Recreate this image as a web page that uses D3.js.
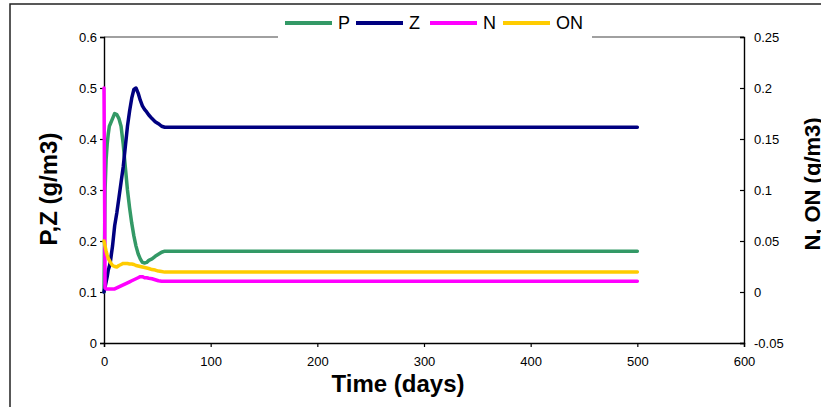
<!DOCTYPE html>
<html>
<head>
<meta charset="utf-8">
<script src="https://cdn.jsdelivr.net/npm/d3@7"></script>
<style>
  html, body { margin: 0; padding: 0; background: #fff; }
  svg { display: block; font-family: "Liberation Sans", Arial, sans-serif; }
</style>
</head>
<body>
<svg id="chart" width="821" height="407"></svg>
<script>
// ---- data ----
const time = [0, 1, 2, 3, 4, 5, 6, 8, 10, 12, 14, 16, 18, 20, 22, 24, 26, 28, 30, 32, 34, 36, 38, 40, 42, 45, 48, 51, 54, 57, 60, 70, 100, 200, 300, 400, 500];
const P  = [0.10, 0.30, 0.36, 0.39, 0.41, 0.425, 0.43, 0.44, 0.45, 0.448, 0.44, 0.425, 0.39, 0.345, 0.30, 0.265, 0.235, 0.21, 0.19, 0.175, 0.165, 0.158, 0.157, 0.158, 0.162, 0.165, 0.17, 0.174, 0.178, 0.18, 0.18, 0.18, 0.18, 0.18, 0.18, 0.18, 0.18];
const Z  = [0.10, 0.11, 0.12, 0.13, 0.143, 0.15, 0.16, 0.19, 0.23, 0.255, 0.285, 0.315, 0.345, 0.385, 0.425, 0.455, 0.48, 0.497, 0.50, 0.49, 0.476, 0.465, 0.458, 0.453, 0.447, 0.44, 0.434, 0.43, 0.425, 0.423, 0.423, 0.423, 0.423, 0.423, 0.423, 0.423, 0.423];
const N  = [0.20, 0.004, 0.003, 0.003, 0.003, 0.003, 0.003, 0.003, 0.003, 0.004, 0.005, 0.006, 0.007, 0.008, 0.009, 0.010, 0.011, 0.012, 0.013, 0.014, 0.015, 0.015, 0.014, 0.014, 0.0135, 0.013, 0.012, 0.011, 0.0105, 0.0105, 0.0105, 0.0105, 0.0105, 0.0105, 0.0105, 0.0105, 0.0105];
const ON = [0.05, 0.045, 0.040, 0.036, 0.033, 0.031, 0.029, 0.026, 0.025, 0.0245, 0.026, 0.027, 0.028, 0.028, 0.028, 0.0275, 0.0275, 0.027, 0.026, 0.0255, 0.025, 0.0245, 0.024, 0.0235, 0.023, 0.022, 0.0215, 0.0205, 0.020, 0.0195, 0.0195, 0.0195, 0.0195, 0.0195, 0.0195, 0.0195, 0.0195];

const xTicks = [0, 100, 200, 300, 400, 500, 600];
const yLeftTicks = [0, 0.1, 0.2, 0.3, 0.4, 0.5, 0.6];
const yRightTicks = [-0.05, 0, 0.05, 0.1, 0.15, 0.2, 0.25];
const seriesNames = ["P", "Z", "N", "ON"];
const seriesColors = ["#339966", "#000080", "#FF00FF", "#FFCC00"];
const seriesAxis = ["left", "left", "right", "right"];
const seriesValues = [P, Z, N, ON];

// ---- layout ----
const svg = d3.select("#chart");
const L = 104, R = 744, T = 37, B = 343;

const x = d3.scaleLinear().domain([0, 600]).range([L, R]);
const yL = d3.scaleLinear().domain([0, 0.6]).range([B, T]);
const yR = d3.scaleLinear().domain([-0.05, 0.25]).range([B, T]);

// outer frame
svg.append("rect").attr("x", 10).attr("y", 4).attr("width", 900).attr("height", 500)
  .attr("fill", "#fff").attr("stroke", "#222").attr("stroke-width", 1.5);

// plot top border (gray)
svg.append("line").attr("x1", L).attr("x2", R).attr("y1", T).attr("y2", T)
  .attr("stroke", "#808080").attr("stroke-width", 1.5);

const fmt = d => String(+d.toFixed(2));

// axes
const gx = svg.append("g").attr("transform", `translate(0,${B})`)
  .call(d3.axisBottom(x).tickValues(xTicks).tickSize(4).tickPadding(10).tickFormat(fmt));
const gl = svg.append("g").attr("transform", `translate(${L},0)`)
  .call(d3.axisLeft(yL).tickValues(yLeftTicks).tickSize(4).tickPadding(3).tickFormat(fmt));
const gr = svg.append("g").attr("transform", `translate(${R},0)`)
  .call(d3.axisRight(yR).tickValues(yRightTicks).tickSize(-4).tickPadding(10).tickFormat(fmt));

[gx, gl, gr].forEach(g => {
  g.select(".domain").attr("stroke", "#000").attr("stroke-width", 1.4);
  g.selectAll(".tick line").attr("stroke", "#000").attr("stroke-width", 1.2);
  g.selectAll(".tick text").attr("fill", "#000").style("font-size", "13px")
    .style("font-family", "'Liberation Sans', Arial, sans-serif");
});

// lines
seriesValues.forEach((vals, i) => {
  const yS = seriesAxis[i] === "left" ? yL : yR;
  const line = d3.line().x((d, j) => x(time[j])).y(d => yS(d));
  svg.append("path").datum(vals)
    .attr("d", line)
    .attr("fill", "none")
    .attr("stroke", seriesColors[i])
    .attr("stroke-width", 3.5)
    .attr("stroke-linejoin", "round")
    .attr("stroke-linecap", "round");
});

// axis titles
svg.append("text").attr("transform", "translate(57,189) rotate(-90)")
  .attr("text-anchor", "middle").style("font-size", "24px").style("font-weight", "bold")
  .text("P,Z (g/m3)");
svg.append("text").attr("transform", "translate(820,184) rotate(-90)")
  .attr("text-anchor", "middle").style("font-size", "22px").style("font-weight", "bold")
  .text("N, ON (g/m3)");
svg.append("text").attr("x", 398).attr("y", 392)
  .attr("text-anchor", "middle").style("font-size", "24px").style("font-weight", "bold")
  .text("Time (days)");

// legend
svg.append("rect").attr("x", 278).attr("y", 5).attr("width", 314).attr("height", 33)
  .attr("fill", "#fff");
const legX = [285, 356, 430, 503];
seriesNames.forEach((name, i) => {
  svg.append("line").attr("x1", legX[i]).attr("x2", legX[i] + 47)
    .attr("y1", 23).attr("y2", 23)
    .attr("stroke", seriesColors[i]).attr("stroke-width", 4);
  svg.append("text").attr("x", legX[i] + 53).attr("y", 23).attr("dy", "0.36em")
    .style("font-size", "18px").text(name);
});
</script>
</body>
</html>
